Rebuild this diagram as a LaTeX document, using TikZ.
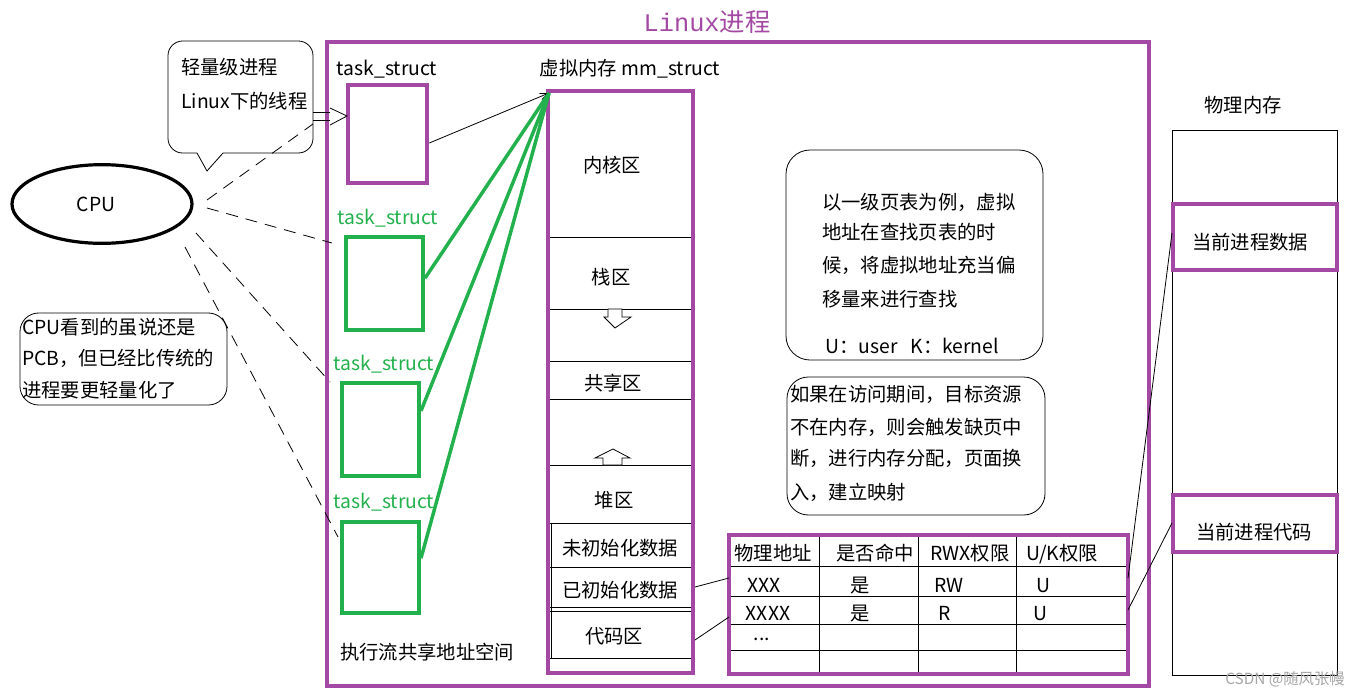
\documentclass[tikz,border=0pt]{standalone}
\usepackage{fontspec}
\setmainfont{Noto Sans CJK SC}
\newfontfamily\titlemono{Liberation Mono}
\usetikzlibrary{arrows.meta,fit,shapes.geometric}
\definecolor{ppl}{HTML}{A349A4}
\definecolor{grn}{HTML}{22B14C}
\begin{document}
\begin{tikzpicture}[x=0.75pt,y=-0.75pt,
  txt/.style={font=\fontsize{14.5}{17}\selectfont, inner sep=0, anchor=base},
  ltxt/.style={txt, anchor=base west},
  gtxt/.style={txt, text=grn},
  pbox/.style={draw=ppl, line width=3.5pt, inner sep=0},
  gbox/.style={draw=grn, line width=3pt, inner sep=0},
  tline/.style={draw=black, line width=0.6pt},
  cpudash/.style={draw=black, line width=0.6pt, dash pattern=on 9pt off 6pt},
  glink/.style={draw=grn, line width=2.6pt},
]
\useasboundingbox (0,0) rectangle (1350,697);
\fill[white] (0,0) rectangle (1350,697);

% title
\node[inner sep=0, anchor=base, text=ppl, font=\fontsize{19}{22}\selectfont] (title) at (707,31) {{\titlemono Linux}进程};

% outer process box
\node (outer) [pbox, fit={(327,42)(1149,686)}] {};

% CPU
\node (cpu) [ellipse, draw, line width=2.4pt, minimum width=135pt, minimum height=59pt, font=\fontsize{14.5}{17}\selectfont] at (102,204) {CPU\hspace*{9pt}};

% speech bubble
\draw[tline, rounded corners=11pt] (197,153) -- (168,153) -- (168,41) -- (313,41) -- (313,153) -- (223,153);
\draw[tline] (223,153) -- (207,171) -- (197,153);
\node[ltxt] (b1) at (181,74) {轻量级进程};
\node[ltxt] (b2) at (181,108) {Linux下的线程};

% left note
\node (note) [draw, line width=0.6pt, rounded corners=14pt, fit={(20,313)(227,405)}, inner sep=0] {};
\node[ltxt] (n1) at (22,334) {CPU看到的虽说还是};
\node[ltxt] (n2) at (22,365) {PCB，但已经比传统的};
\node[ltxt] (n3) at (22,397) {进程要更轻量化了};

% task structs
\node[txt] (l1) at (387,75) {task\_struct};
\node (task1) [pbox, fit={(348,85)(427,183)}] {};
\node[gtxt] (l2) at (388,224) {task\_struct};
\node (task2) [gbox, fit={(346,237)(423,330)}] {};
\node[gtxt] (l3) at (384,370) {task\_struct};
\node (task3) [gbox, fit={(342,383)(419,476)}] {};
\node[gtxt] (l4) at (384,508) {task\_struct};
\node (task4) [gbox, fit={(342,522)(419,613)}] {};
\node[txt] (shared) at (427,659) {执行流共享地址空间};

% memory column
\node[txt] (mmlabel) at (630,75) {虚拟内存 mm\_struct};
\foreach \yy in {237,309,361,399,465,523,567,607,611,658} \draw[tline] (548,\yy) -- (693,\yy);
\draw[tline] (551,523) -- (551,658);
\node (mm) [pbox, fit={(548,91)(693,673)}] {};
\node[txt] (kern) at (612,172) {内核区};
\node[txt] (stack) at (611,284) {栈区};
\node[txt] (shm) at (613,390) {共享区};
\node[txt] (heap) at (614,507) {堆区};
\node[txt] (bss) at (620,555) {未初始化数据};
\node[txt] (data) at (620,597) {已初始化数据};
\node[txt] (code) at (614,643) {代码区};
\filldraw[fill=white, draw=black, line width=0.6pt] (608,309) -- (622,309) -- (622,317) -- (631,317) -- (615,328) -- (604,317) -- (608,317) -- cycle;
\filldraw[fill=white, draw=black, line width=0.6pt] (613,449) -- (630,458) -- (622,458) -- (622,465) -- (603,465) -- (603,458) -- (595,458) -- cycle;

% links task -> mm
\coordinate (mmtop) at (549,93);
\draw[tline, -{Straight Barb[length=6pt,width=5pt]}] ([yshift=-6.75pt]task1.east) -- (mmtop);
\draw[glink] ([yshift=4pt]task2.east) -- (mmtop);
\draw[glink] ([yshift=14pt]task3.east) -- (mmtop);
\draw[glink] ([yshift=7pt]task4.east) -- (mmtop);

% CPU dashed links
\coordinate (c1) at (207,200);
\coordinate (c2) at (207,208);
\coordinate (c3) at (196,233);
\coordinate (c4) at (185,247);
\coordinate (e1) at (313,124);
\coordinate (e2) at (332,243);
\coordinate (e3) at (330,382);
\coordinate (e4) at (338,537);
\draw[cpudash] (c1) -- (e1);
\draw[cpudash] (c2) -- (e2);
\draw[cpudash] (c3) -- (e3);
\draw[cpudash] (c4) -- (e4);
\draw[tline] (313,112) -- (330,112);
\draw[tline] (313,120) -- (330,120);
\draw[tline] (330,108) -- (347,116) -- (330,125);

% info boxes
\node (info1) [draw, line width=0.6pt, rounded corners=18pt, fit={(786,150)(1043,360)}, inner sep=0] {};
\node[ltxt] (i1) at (822,209) {以一级页表为例，虚拟};
\node[ltxt] (i2) at (822,239) {地址在查找页表的时};
\node[ltxt] (i3) at (822,272) {候，将虚拟地址充当偏};
\node[ltxt] (i4) at (822,306) {移量来进行查找};
\node[ltxt] (i5) at (825,353) {U：user\ \ \ K：kernel};
\node (info2) [draw, line width=0.6pt, rounded corners=16pt, fit={(787,377)(1045,515)}, inner sep=0] {};
\node[ltxt] (j1) at (790,401) {如果在访问期间，目标资源};
\node[ltxt] (j2) at (790,434) {不在内存，则会触发缺页中};
\node[ltxt] (j3) at (790,465) {断，进行内存分配，页面换};
\node[ltxt] (j4) at (790,499) {入，建立映射};

% page table
\foreach \yy in {566,596,624,650,675} \draw[tline] (729,\yy) -- (1128,\yy);
\foreach \xx in {819,918,1016} \draw[tline] (\xx,535) -- (\xx,675);
\node (table) [pbox, fit={(729,535)(1128,674)}] {};
\node[txt] (h1) at (773,560) {物理地址};
\node[txt] (h2) at (875,560) {是否命中};
\node[txt] (h3) at (970,560) {RWX权限};
\node[txt] (h4) at (1062,560) {U/K权限};
\node[txt] (r11) at (764,592) {XXX};
\node[txt] (r12) at (860,592) {是};
\node[txt] (r13) at (949,592) {RW};
\node[txt] (r14) at (1043,592) {U};
\node[txt] (r21) at (768,620) {XXXX};
\node[txt] (r22) at (860,620) {是};
\node[txt] (r23) at (945,620) {R};
\node[txt] (r24) at (1040,620) {U};
\node[txt] (r31) at (762,640) {...};

% mm -> table links
\coordinate (d1) at (695,587);
\coordinate (d2) at (695,640);
\coordinate (t1) at (729,578);
\coordinate (t2) at (729,617);
\draw[tline] (d1) -- (t1);
\draw[tline] (d2) -- (t2);

% physical memory
\node[txt] (physlabel) at (1243,112) {物理内存};
\node (phys) [draw, line width=0.6pt, fit={(1172,130)(1337,675)}, inner sep=0] {};
\node (pdata) [pbox, fit={(1173,204)(1337,270)}] {};
\node (pcode) [pbox, fit={(1173,495)(1337,552)}] {};
\node[txt] (pdt) at (1250,249) {当前进程数据};
\node[txt] (pct) at (1254,539) {当前进程代码};

% table -> physical links
\coordinate (u1) at (1128,578);
\coordinate (u2) at (1128,610);
\coordinate (p1) at (1172,233);
\coordinate (p2) at (1172,523);
\draw[tline] (u1) -- (p1);
\draw[tline] (u2) -- (p2);

% watermark
\node[txt, text=black!35, font=\fontsize{11.5}{13}\selectfont] (wm) at (1285,684) {CSDN @随风张幔};
\end{tikzpicture}
\end{document}
